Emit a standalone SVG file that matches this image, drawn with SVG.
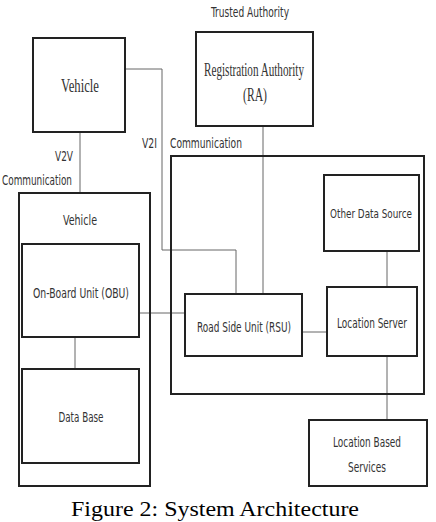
<svg xmlns="http://www.w3.org/2000/svg" width="436" height="522" viewBox="0 0 436 522">
<style>
.box{fill:none;stroke:#222;stroke-width:2}
.ln{fill:none;stroke:#666;stroke-width:1}
.s{font-family:"Liberation Sans Narrow","DejaVu Sans Condensed","Liberation Sans",sans-serif;font-size:14px;fill:#333;text-anchor:middle}
.sl{font-family:"Liberation Sans Narrow","DejaVu Sans Condensed","Liberation Sans",sans-serif;font-size:14px;fill:#333}
.r{font-family:"Liberation Serif",serif;font-size:19px;fill:#333;text-anchor:middle}
.cap{font-family:"Liberation Serif",serif;font-size:22px;fill:#000;text-anchor:middle}
</style>
<rect width="436" height="522" fill="#fff"/>
<g id="connectors">
<polyline class="ln" points="125,69 162,69 162,250 236,250 236,294"/>
<line class="ln" x1="263" y1="126" x2="263" y2="294"/>
<line class="ln" x1="80" y1="132" x2="80" y2="193"/>
<line class="ln" x1="75" y1="337" x2="75" y2="369"/>
<line class="ln" x1="139" y1="313" x2="185" y2="313"/>
<line class="ln" x1="302" y1="332" x2="327" y2="332"/>
<line class="ln" x1="387" y1="251" x2="387" y2="287"/>
<line class="ln" x1="387" y1="356" x2="387" y2="420"/>
</g>
<g id="labels">
<text class="sl" x="211" y="17" textLength="78" lengthAdjust="spacingAndGlyphs">Trusted Authority</text>
<text class="sl" x="55" y="161" textLength="18" lengthAdjust="spacingAndGlyphs">V2V</text>
<text class="sl" x="2" y="185" textLength="70" lengthAdjust="spacingAndGlyphs">Communication</text>
<text class="sl" x="142" y="148" textLength="15" lengthAdjust="spacingAndGlyphs">V2I</text>
<text class="sl" x="170" y="148" textLength="72" lengthAdjust="spacingAndGlyphs">Communication</text>
</g>
<g id="vehicle-top">
<rect class="box" x="33" y="38" width="92" height="94"/>
<text class="r" x="80" y="92" textLength="38" lengthAdjust="spacingAndGlyphs">Vehicle</text>
</g>
<g id="ra">
<rect class="box" x="196" y="32" width="117" height="94"/>
<text class="r" x="254" y="76" textLength="100" lengthAdjust="spacingAndGlyphs">Registration Authority</text>
<text class="r" x="255" y="101" textLength="24" lengthAdjust="spacingAndGlyphs">(RA)</text>
</g>
<g id="communication">
<rect class="box" x="171" y="156" width="253" height="238"/>
</g>
<g id="other-data-source">
<rect class="box" x="324" y="175" width="95" height="76"/>
<text class="s" x="371" y="218" style="font-size:12.5px" textLength="82" lengthAdjust="spacingAndGlyphs">Other Data Source</text>
</g>
<g id="vehicle">
<rect class="box" x="19" y="193" width="131" height="293"/>
<text class="s" x="80" y="225" textLength="34" lengthAdjust="spacingAndGlyphs">Vehicle</text>
</g>
<g id="obu">
<rect class="box" x="22" y="244" width="117" height="93"/>
<text class="s" x="81" y="298" textLength="96" lengthAdjust="spacingAndGlyphs">On-Board Unit (OBU)</text>
</g>
<g id="database">
<rect class="box" x="22" y="369" width="117" height="94"/>
<text class="s" x="81" y="422" textLength="45" lengthAdjust="spacingAndGlyphs">Data Base</text>
</g>
<g id="rsu">
<rect class="box" x="185" y="294" width="117" height="62"/>
<text class="s" x="244" y="332" textLength="94" lengthAdjust="spacingAndGlyphs">Road Side Unit (RSU)</text>
</g>
<g id="location-server">
<rect class="box" x="327" y="287" width="90" height="69"/>
<text class="s" x="372" y="328" textLength="70" lengthAdjust="spacingAndGlyphs">Location Server</text>
</g>
<g id="lbs">
<rect class="box" x="309" y="420" width="118" height="66"/>
<text class="s" x="367" y="447" textLength="68" lengthAdjust="spacingAndGlyphs">Location Based</text>
<text class="s" x="367" y="472" textLength="38" lengthAdjust="spacingAndGlyphs">Services</text>
</g>
<text class="cap" x="215" y="516" textLength="288" lengthAdjust="spacingAndGlyphs">Figure 2: System Architecture</text>
</svg>
